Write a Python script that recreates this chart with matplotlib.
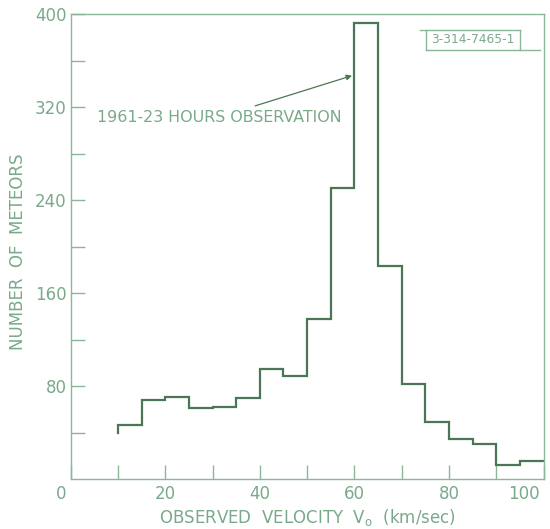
import matplotlib.pyplot as plt
from matplotlib.transforms import ScaledTranslation

# bin edges of the velocity histogram (km/sec) and meteor counts per bin
bin_edges = [10, 15, 20, 25, 30, 35, 40, 45, 50, 55, 60, 65, 70, 75, 80, 85, 90, 95, 100]
counts = [47, 68, 71, 61, 62, 70, 95, 89, 138, 250, 392, 183, 82, 49, 35, 30, 12, 16]
start_level = 40

x_ticks = [0, 20, 40, 60, 80, 100]
y_ticks = [80, 160, 240, 320, 400]
annotation = "1961-23 HOURS OBSERVATION"
figure_id = "3-314-7465-1"

line_color = '#4a7656'
axis_color = '#8ab79a'
text_color = '#7aa98a'


def main():
    fig = plt.figure(figsize=(5.5, 5.29), dpi=100)
    ax = fig.add_axes([70.7 / 550, 1 - 479.3 / 529, 472.8 / 550, 465.3 / 529])

    # step outline
    xs = [bin_edges[0]]
    ys = [start_level]
    for i, c in enumerate(counts):
        xs += [bin_edges[i], bin_edges[i + 1]]
        ys += [c, c]
    ax.plot(xs, ys, color=line_color, lw=1.6, solid_joinstyle='miter')

    ax.set_xlim(0, 100)
    ax.set_ylim(0, 400)
    ax.set_xticks(x_ticks)
    ax.set_xticks(range(10, 100, 10), minor=True)
    ax.set_yticks(y_ticks)
    ax.set_yticks(range(40, 400, 40), minor=True)
    ax.tick_params(which='both', direction='in', colors=axis_color,
                   labelcolor=text_color, labelsize=12, width=1, length=10)
    ax.tick_params(axis='x', pad=4)
    ax.tick_params(axis='y', pad=3)
    for s in ax.spines.values():
        s.set_color(axis_color)
        s.set_linewidth(1)

    # corner labels sit inside the figure like in the original drawing
    xlabels = ax.get_xticklabels()
    xlabels[0].set_transform(xlabels[0].get_transform() + ScaledTranslation(-0.1, 0, fig.dpi_scale_trans))
    xlabels[-1].set_transform(xlabels[-1].get_transform() + ScaledTranslation(-0.2, 0, fig.dpi_scale_trans))

    ax.set_xlabel(r"OBSERVED  VELOCITY  V$_{\mathregular{o}}$  (km/sec)",
                  color=text_color, fontsize=12, labelpad=3)
    ax.set_ylabel("NUMBER  OF  METEORS", color=text_color, fontsize=12)
    ax.yaxis.set_label_coords(-0.093, 0.49)

    ax.annotate("", xy=(59.5, 347), xytext=(39, 321),
                arrowprops=dict(arrowstyle='-|>', color=line_color, lw=0.9,
                                mutation_scale=8, shrinkA=0, shrinkB=0))
    ax.text(5.5, 311, annotation, color=text_color, fontsize=11.4, va='center')

    # drawing number box
    ax.text(85.1, 378, figure_id, color=text_color, fontsize=8.8, va='center', ha='center')
    ax.plot([73.8, 95.0], [386.6, 386.6], color=axis_color, lw=1)
    ax.plot([75.2, 99.2], [369.4, 369.4], color=axis_color, lw=1)
    ax.plot([75.2, 75.2], [369.4, 386.6], color=axis_color, lw=1)
    ax.plot([95.0, 95.0], [369.4, 386.6], color=axis_color, lw=1)

    fig.savefig('out.png', dpi=100)


if __name__ == "__main__":
    main()
